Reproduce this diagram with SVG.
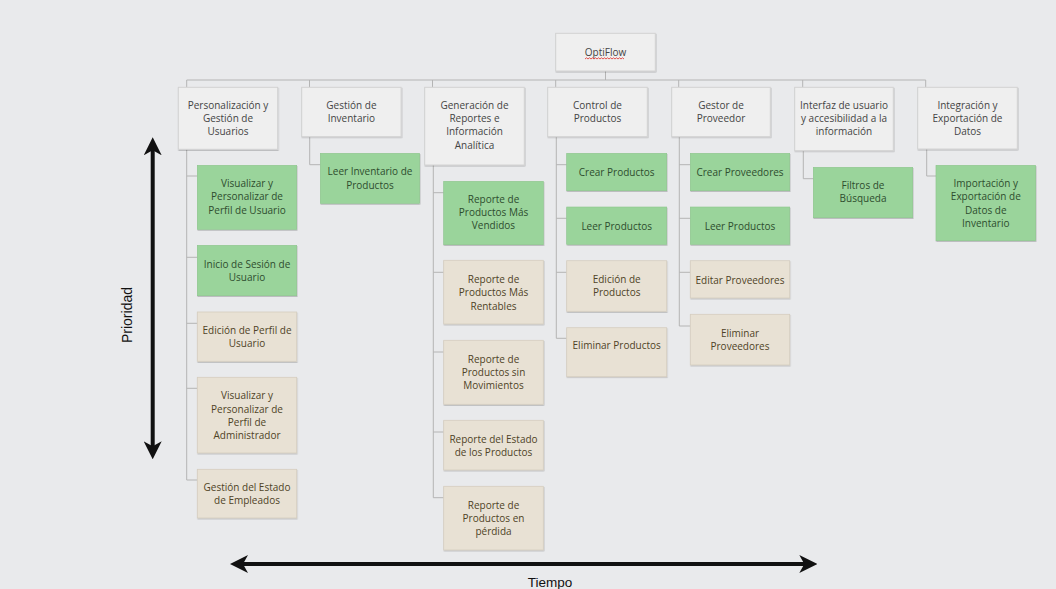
<svg xmlns="http://www.w3.org/2000/svg" width="1056" height="589" viewBox="0 0 1056 589">
<defs>
<filter id="sh" x="-10%" y="-10%" width="120%" height="130%">
<feDropShadow dx="0.5" dy="1" stdDeviation="0.7" flood-color="#000" flood-opacity="0.22"/>
</filter>
<marker id="ah" viewBox="0 0 18 18" refX="7" refY="9" markerWidth="18" markerHeight="18" markerUnits="userSpaceOnUse" orient="auto-start-reverse">
<path d="M0,0 L18,9 L0,18 L5,9 Z" fill="#111"/>
</marker>
<style>
.h{fill:#efefef;stroke:#d2d2d2;stroke-width:1;filter:url(#sh)}
.g{fill:#9ad49b;stroke:#8cc68d;stroke-width:0.6;filter:url(#sh)}
.b{fill:#e8e1d4;stroke:#d5cdbf;stroke-width:0.8;filter:url(#sh)}
text{font-family:"Open Sans","Noto Sans","Liberation Sans",sans-serif;font-size:10px;text-anchor:middle}
.th{fill:#444}
.tg{fill:#2e4d2e}
.tb{fill:#4f4326}
.c{fill:none;stroke:#b4b4b4;stroke-width:1}
.ax{fill:none;stroke:#111;stroke-width:4;marker-start:url(#ah);marker-end:url(#ah)}
text.al{font-family:"Liberation Sans",Arial,sans-serif;fill:#111;font-size:14px}
text.al2{font-family:"Liberation Sans",Arial,sans-serif;fill:#111;font-size:13.5px}
</style>
</defs>
<rect width="1056" height="589" fill="#e9eaec"/>

<g id="connectors" class="c">
<path d="M605.5,71 V80 M186.7,80 H925.7 M186.7,80 V87.3 M309.5,80 V87.3 M432.5,80 V87.3 M555.7,80 V87.3 M678.7,80 V87.3 M802.7,80 V87.3 M925.7,80 V87.3"/>
<path d="M186.7,149.3 V480 M186.7,176 H197.3 M186.7,257.3 H197.3 M186.7,323.3 H197.3 M186.7,388.3 H197.3 M186.7,480 H197.3"/>
<path d="M309.7,136.7 V164.7 H320.3"/>
<path d="M433.3,165 V497.7 M433.3,192.7 H443.7 M433.3,272.3 H443.7 M433.3,352 H443.7 M433.3,432 H443.7 M433.3,497.7 H443.7"/>
<path d="M556.3,136.7 V338.3 M556.3,164.7 H566.7 M556.3,218.3 H566.7 M556.3,272.3 H566.7 M556.3,338.3 H566.7"/>
<path d="M679.3,136.7 V326 M679.3,164.7 H690.3 M679.3,218.3 H690.3 M679.3,272.3 H690.3 M679.3,326 H690.3"/>
<path d="M803.3,150.7 V178.7 H813.3"/>
<path d="M926.7,149 V176 H936"/>
</g>

<g id="root">
<rect class="h" x="555.7" y="33.3" width="99.6" height="37.7"/>
<text class="th" x="605.5" y="56.2">OptiFlow</text>
<path d="M585,59 l1.5,-1.2 l1.5,1.2 l1.5,-1.2 l1.5,1.2 l1.5,-1.2 l1.5,1.2 l1.5,-1.2 l1.5,1.2 l1.5,-1.2 l1.5,1.2 l1.5,-1.2 l1.5,1.2 l1.5,-1.2 l1.5,1.2 l1.5,-1.2 l1.5,1.2 l1.5,-1.2 l1.5,1.2 l1.5,-1.2 l1.5,1.2 l1.5,-1.2 l1.5,1.2 l1.5,-1.2 l1.5,1.2 l1.5,-1.2 l1.5,1.2" fill="none" stroke="#e0403c" stroke-width="0.9"/>
</g>

<g id="h1"><rect class="h" x="178.3" y="87.3" width="99.4" height="62"/>
<text class="th" x="228" y="108.5">Personalización y</text><text class="th" x="228" y="121.8">Gestión de</text><text class="th" x="228" y="135.2">Usuarios</text></g>
<g id="h2"><rect class="h" x="301.7" y="87.3" width="99.4" height="49.4"/>
<text class="th" x="351.4" y="108.5">Gestión de</text><text class="th" x="351.4" y="121.8">Inventario</text></g>
<g id="h3"><rect class="h" x="424.7" y="87.3" width="99.6" height="77.7"/>
<text class="th" x="474.5" y="108.5">Generación de</text><text class="th" x="474.5" y="121.8">Reportes e</text><text class="th" x="474.5" y="135.2">Información</text><text class="th" x="474.5" y="148.5">Analítica</text></g>
<g id="h4"><rect class="h" x="547.7" y="87.3" width="99.6" height="49.4"/>
<text class="th" x="597.5" y="108.5">Control de</text><text class="th" x="597.5" y="121.8">Productos</text></g>
<g id="h5"><rect class="h" x="671.7" y="87.3" width="98.6" height="49.4"/>
<text class="th" x="721" y="108.5">Gestor de</text><text class="th" x="721" y="121.8">Proveedor</text></g>
<g id="h6"><rect class="h" x="794.7" y="87.3" width="98.6" height="63.4"/>
<text class="th" x="844" y="108.5">Interfaz de usuario</text><text class="th" x="844" y="121.8">y accesibilidad a la</text><text class="th" x="844" y="135.2">información</text></g>
<g id="h7"><rect class="h" x="917.7" y="87.3" width="99.6" height="61.7"/>
<text class="th" x="967.5" y="108.5">Integración y</text><text class="th" x="967.5" y="121.8">Exportación de</text><text class="th" x="967.5" y="135.2">Datos</text></g>

<g id="c1a"><rect class="g" x="197.3" y="165.3" width="99.4" height="64"/>
<text class="tg" x="247" y="186.8">Visualizar y</text><text class="tg" x="247" y="200.2">Personalizar de</text><text class="tg" x="247" y="213.5">Perfil de Usuario</text></g>
<g id="c1b"><rect class="g" x="197.3" y="245.3" width="99.4" height="50.4"/>
<text class="tg" x="247" y="267.5">Inicio de Sesión de</text><text class="tg" x="247" y="280.8">Usuario</text></g>
<g id="c1c"><rect class="b" x="197.3" y="312" width="99.4" height="49.3"/>
<text class="tb" x="247" y="333.5">Edición de Perfil de</text><text class="tb" x="247" y="346.8">Usuario</text></g>
<g id="c1d"><rect class="b" x="197.3" y="377.3" width="99.4" height="75.7"/>
<text class="tb" x="247" y="399.2">Visualizar y</text><text class="tb" x="247" y="412.5">Personalizar de</text><text class="tb" x="247" y="425.8">Perfil de</text><text class="tb" x="247" y="439.2">Administrador</text></g>
<g id="c1e"><rect class="b" x="197.3" y="469.3" width="99.4" height="48.7"/>
<text class="tb" x="247" y="490.8">Gestión del Estado</text><text class="tb" x="247" y="503.8">de Empleados</text></g>

<g id="c2a"><rect class="g" x="320.3" y="153.3" width="99.4" height="50"/>
<text class="tg" x="370" y="175.2">Leer Inventario de</text><text class="tg" x="370" y="188.5">Productos</text></g>

<g id="c3a"><rect class="g" x="443.7" y="181.3" width="99.6" height="63.4"/>
<text class="tg" x="493.5" y="202.5">Reporte de</text><text class="tg" x="493.5" y="215.5">Productos Más</text><text class="tg" x="493.5" y="228.8">Vendidos</text></g>
<g id="c3b"><rect class="b" x="443.7" y="260.3" width="99.6" height="63.7"/>
<text class="tb" x="493.5" y="282.8">Reporte de</text><text class="tb" x="493.5" y="296.2">Productos Más</text><text class="tb" x="493.5" y="309.5">Rentables</text></g>
<g id="c3c"><rect class="b" x="443.7" y="340.3" width="99.6" height="64"/>
<text class="tb" x="493.5" y="362.8">Reporte de</text><text class="tb" x="493.5" y="376.2">Productos sin</text><text class="tb" x="493.5" y="389.2">Movimientos</text></g>
<g id="c3d"><rect class="b" x="443.7" y="420.3" width="99.6" height="49.7"/>
<text class="tb" x="493.5" y="442.8">Reporte del Estado</text><text class="tb" x="493.5" y="455.8">de los Productos</text></g>
<g id="c3e"><rect class="b" x="443.7" y="486.3" width="99.6" height="63.7"/>
<text class="tb" x="493.5" y="508.5">Reporte de</text><text class="tb" x="493.5" y="521.5">Productos en</text><text class="tb" x="493.5" y="534.8">pérdida</text></g>

<g id="c4a"><rect class="g" x="566.7" y="153.3" width="100" height="37.4"/>
<text class="tg" x="616.7" y="175.8">Crear Productos</text></g>
<g id="c4b"><rect class="g" x="566.7" y="207" width="100" height="37.3"/>
<text class="tg" x="616.7" y="229.5">Leer Productos</text></g>
<g id="c4c"><rect class="b" x="566.7" y="260.7" width="100" height="50.6"/>
<text class="tb" x="616.7" y="282.8">Edición de</text><text class="tb" x="616.7" y="295.8">Productos</text></g>
<g id="c4d"><rect class="b" x="566.7" y="327.7" width="100" height="49"/>
<text class="tb" x="616.7" y="348.8">Eliminar Productos</text></g>

<g id="c5a"><rect class="g" x="690.3" y="153.3" width="99.4" height="37.4"/>
<text class="tg" x="740" y="175.8">Crear Proveedores</text></g>
<g id="c5b"><rect class="g" x="690.3" y="207" width="99.4" height="37.3"/>
<text class="tg" x="740" y="229.5">Leer Productos</text></g>
<g id="c5c"><rect class="b" x="690.3" y="260.7" width="99.4" height="37.3"/>
<text class="tb" x="740" y="283.5">Editar Proveedores</text></g>
<g id="c5d"><rect class="b" x="690.3" y="314.3" width="99.4" height="50.7"/>
<text class="tb" x="740" y="336.8">Eliminar</text><text class="tb" x="740" y="349.5">Proveedores</text></g>

<g id="c6a"><rect class="g" x="813.3" y="167.3" width="99.4" height="50.4"/>
<text class="tg" x="863" y="188.8">Filtros de</text><text class="tg" x="863" y="202.2">Búsqueda</text></g>

<g id="c7a"><rect class="g" x="936" y="165.3" width="99.7" height="75.4"/>
<text class="tg" x="985.8" y="186.8">Importación y</text><text class="tg" x="985.8" y="200.2">Exportación de</text><text class="tg" x="985.8" y="213.5">Datos de</text><text class="tg" x="985.8" y="226.8">Inventario</text></g>

<g id="axes">
<line class="ax" x1="152.7" y1="148.3" x2="152.7" y2="448.3"/>
<line class="ax" x1="241" y1="564" x2="806.3" y2="564"/>
<text class="al" x="126.7" y="315" transform="rotate(-90 126.7 315)" dy="5">Prioridad</text>
<text class="al2" x="550" y="586.7">Tiempo</text>
</g>
</svg>
